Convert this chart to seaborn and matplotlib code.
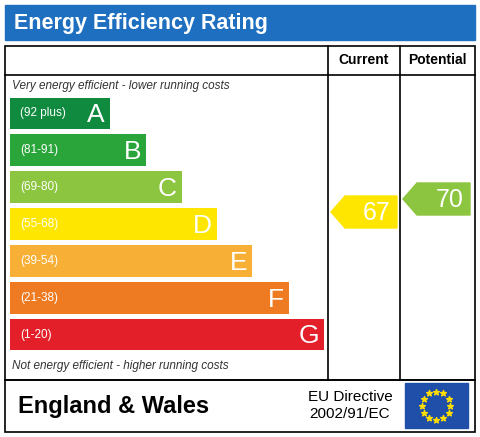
import matplotlib
matplotlib.use("Agg")
import matplotlib.pyplot as plt
import seaborn as sns
import pandas as pd
from matplotlib.patches import Rectangle, Polygon
import numpy as np

bands = ["A", "B", "C", "D", "E", "F", "G"]
ranges = ["(92 plus)", "(81-91)", "(69-80)", "(55-68)", "(39-54)", "(21-38)", "(1-20)"]
lengths = [100, 136, 172, 207, 242, 279, 314]
colors = ["#0f8a3f", "#2aa53a", "#8cc53f", "#ffe600", "#f7b035", "#ee7b22", "#e3202a"]
current = 67
potential = 70

plt.rcParams['font.family'] = ['Liberation Sans', 'DejaVu Sans']

W, H = 481, 437
fig = plt.figure(figsize=(W/100, H/100), dpi=100)
ov = fig.add_axes([0, 0, 1, 1])
ov.set_xlim(0, W); ov.set_ylim(H, 0); ov.axis("off")

ov.add_patch(Rectangle((5, 5), 470, 35, color="#1f6fc1"))
ov.text(14, 23, "Energy Efficiency Rating", color="white", fontsize=15.5, fontweight="bold", va="center")
lw = 1.2
ov.add_patch(Rectangle((5, 46), 470, 334, fill=False, ec="black", lw=lw))
ov.plot([328, 328], [46, 380], color="black", lw=lw)
ov.plot([400, 400], [46, 380], color="black", lw=lw)
ov.plot([5, 475], [75, 75], color="black", lw=lw)
ov.text(364, 60, "Current", fontsize=10, fontweight="bold", ha="center", va="center")
ov.text(437, 60, "Potential", fontsize=10, fontweight="bold", ha="center", va="center")
ov.text(12, 86, "Very energy efficient - lower running costs", fontsize=8.5, style="italic", color="#333", va="center")
ov.text(12, 366, "Not energy efficient - higher running costs", fontsize=8.5, style="italic", color="#333", va="center")
ov.add_patch(Rectangle((5, 380), 470, 52, fill=False, ec="black", lw=lw))
ov.text(18, 406, "England & Wales", fontsize=17, fontweight="bold", va="center")
ov.text(350, 397, "EU Directive", fontsize=11, ha="center", va="center")
ov.text(350, 414, "2002/91/EC", fontsize=11, ha="center", va="center")
ov.add_patch(Rectangle((405, 383), 63, 45, color="#1f4fa8"))
ang = np.linspace(0, 2*np.pi, 13)[:-1]
ov.scatter(436.5 + 14*np.cos(ang), 405.5 + 14*np.sin(ang), marker="*", s=18, color="#ffdd00", zorder=5)

def arrow(x0, x1, yc, h, col, val):
    pts = [(x0, yc), (x0 + 14, yc - h/2), (x1, yc - h/2), (x1, yc + h/2), (x0 + 14, yc + h/2)]
    ov.add_patch(Polygon(pts, color=col))
    ov.text(x1 - 6, yc + 1, str(val), color="white", fontsize=18, ha="right", va="center")
arrow(331, 397, 212, 32, "#ffe600", current)
arrow(403, 470, 199, 32, "#8cc53f", potential)

bx = fig.add_axes([10/W, 1 - 353/H, 318/W, (353-95)/H])
df = pd.DataFrame({"band": bands, "len": lengths})
sns.barplot(data=df, x="len", y="band", hue="band", palette=colors, orient="h",
            width=0.86, ax=bx, legend=False, saturation=1)
bx.set_xlim(0, 318); bx.axis("off")
for i, (b, r, L) in enumerate(zip(bands, ranges, lengths)):
    bx.text(10, i, r, color="white", fontsize=8.5, va="center")
    bx.text(L - 5, i + 0.05, b, color="white", fontsize=19, ha="right", va="center")

fig.savefig("out.png", dpi=100)
